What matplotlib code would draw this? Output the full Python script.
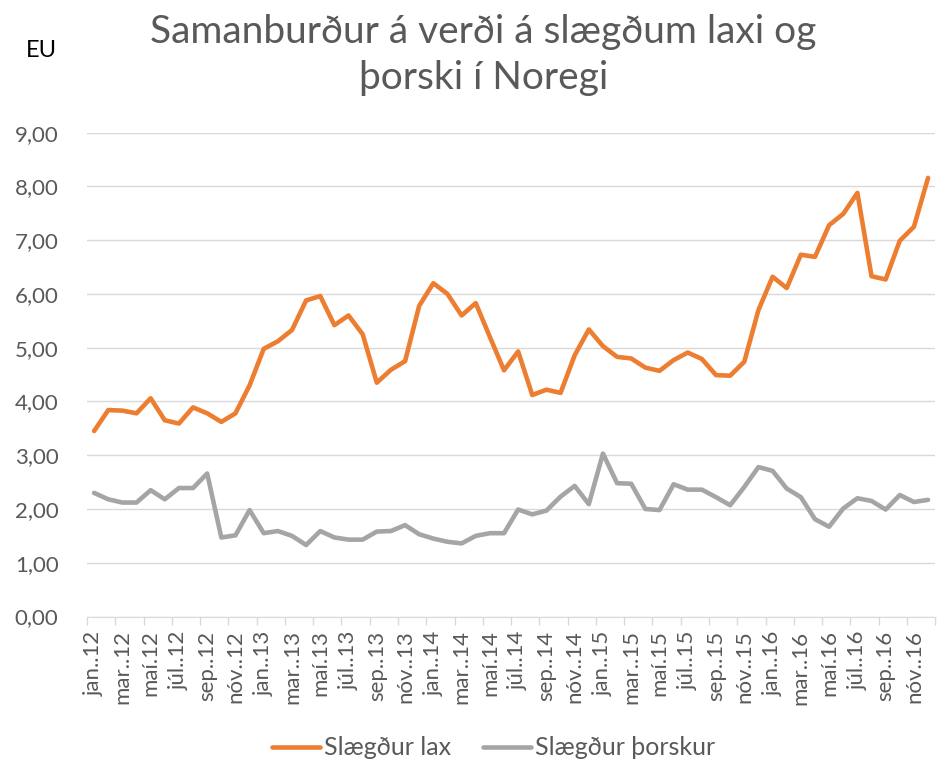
import numpy as np
import matplotlib.pyplot as plt

# Mánaðarlegt verð, jan 2012 - des 2016 (EU)
months = ['jan.', 'feb.', 'mar.', 'apr.', 'maí', 'jún.', 'júl.', 'ágú.', 'sep.', 'okt.', 'nóv.', 'des.']
years = ['12', '13', '14', '15', '16']

lax = [3.45, 3.84, 3.83, 3.78, 4.06, 3.65, 3.59, 3.89, 3.78, 3.62, 3.78, 4.30,
       4.98, 5.12, 5.33, 5.88, 5.96, 5.42, 5.60, 5.25, 4.35, 4.59, 4.75, 5.78,
       6.20, 6.00, 5.60, 5.83, 5.20, 4.58, 4.93, 4.12, 4.22, 4.16, 4.86, 5.34,
       5.03, 4.83, 4.80, 4.63, 4.57, 4.77, 4.91, 4.79, 4.49, 4.48, 4.74, 5.70,
       6.32, 6.11, 6.73, 6.69, 7.28, 7.49, 7.88, 6.33, 6.27, 6.99, 7.25, 8.16]

thorskur = [2.30, 2.18, 2.12, 2.12, 2.35, 2.18, 2.39, 2.39, 2.66, 1.47, 1.51, 1.98,
            1.55, 1.59, 1.50, 1.33, 1.59, 1.47, 1.43, 1.43, 1.58, 1.59, 1.70, 1.53,
            1.45, 1.39, 1.36, 1.50, 1.55, 1.55, 1.99, 1.90, 1.97, 2.23, 2.43, 2.09,
            3.03, 2.48, 2.47, 2.00, 1.98, 2.46, 2.36, 2.36, 2.22, 2.07, 2.41, 2.78,
            2.71, 2.38, 2.22, 1.81, 1.67, 2.01, 2.20, 2.15, 1.99, 2.26, 2.13, 2.17]

# merkingar eins og í Excel (maí hefur bara einn punkt)
labels = []
for y in years:
    for m in months:
        labels.append(m + '.' + y)

plt.rcParams['font.family'] = ['Lato', 'DejaVu Sans']
txt = '#595959'
grid = '#D9D9D9'

fig = plt.figure(figsize=(9.42, 7.6), dpi=100)
ax = fig.add_axes([0.0924, 0.1888, 0.9003, 0.6366])

x = np.arange(len(lax))
ax.plot(x, lax, color='#ED7D31', lw=3.3, solid_joinstyle='round', solid_capstyle='round', label='Slægður lax')
ax.plot(x, thorskur, color='#A5A5A5', lw=3.3, solid_joinstyle='round', solid_capstyle='round', label='Slægður þorskur')

ax.set_xlim(-0.5, len(lax) - 0.5)
ax.set_ylim(0, 9)
ax.set_yticks(np.arange(0, 10, 1))
ax.set_yticklabels([('%.2f' % v).replace('.', ',') for v in np.arange(0, 10, 1)])
ax.yaxis.set_ticks_position('none')
ax.tick_params(axis='y', labelsize=16, labelcolor=txt, pad=17)
ax.grid(axis='y', color=grid, lw=1)

ax.set_xticks(x[::2])
ax.set_xticklabels(labels[::2], rotation=90)
ax.set_xticks(np.arange(-0.5, len(lax), 2), minor=True)
ax.tick_params(axis='x', which='major', length=0, labelsize=16, labelcolor=txt, pad=10)
ax.tick_params(axis='x', which='minor', length=6, color=grid, width=1)

for s in ['top', 'right', 'left']:
    ax.spines[s].set_visible(False)
ax.spines['bottom'].set_color(grid)
ax.set_axisbelow(True)

fig.text(0.513, 0.928, 'Samanburður á verði á slægðum laxi og\nþorski í Noregi',
         ha='center', va='center', fontsize=28, color=txt, linespacing=1.35)
fig.text(0.044, 0.934, 'EU', ha='center', va='center', fontsize=17, color='black')

fig.legend(loc='center', bbox_to_anchor=(0.524, 0.016), ncol=2, frameon=False,
           fontsize=18, labelcolor=txt, handlelength=1.9, handletextpad=0.15, columnspacing=1.3)

fig.savefig('out.png', dpi=100)
